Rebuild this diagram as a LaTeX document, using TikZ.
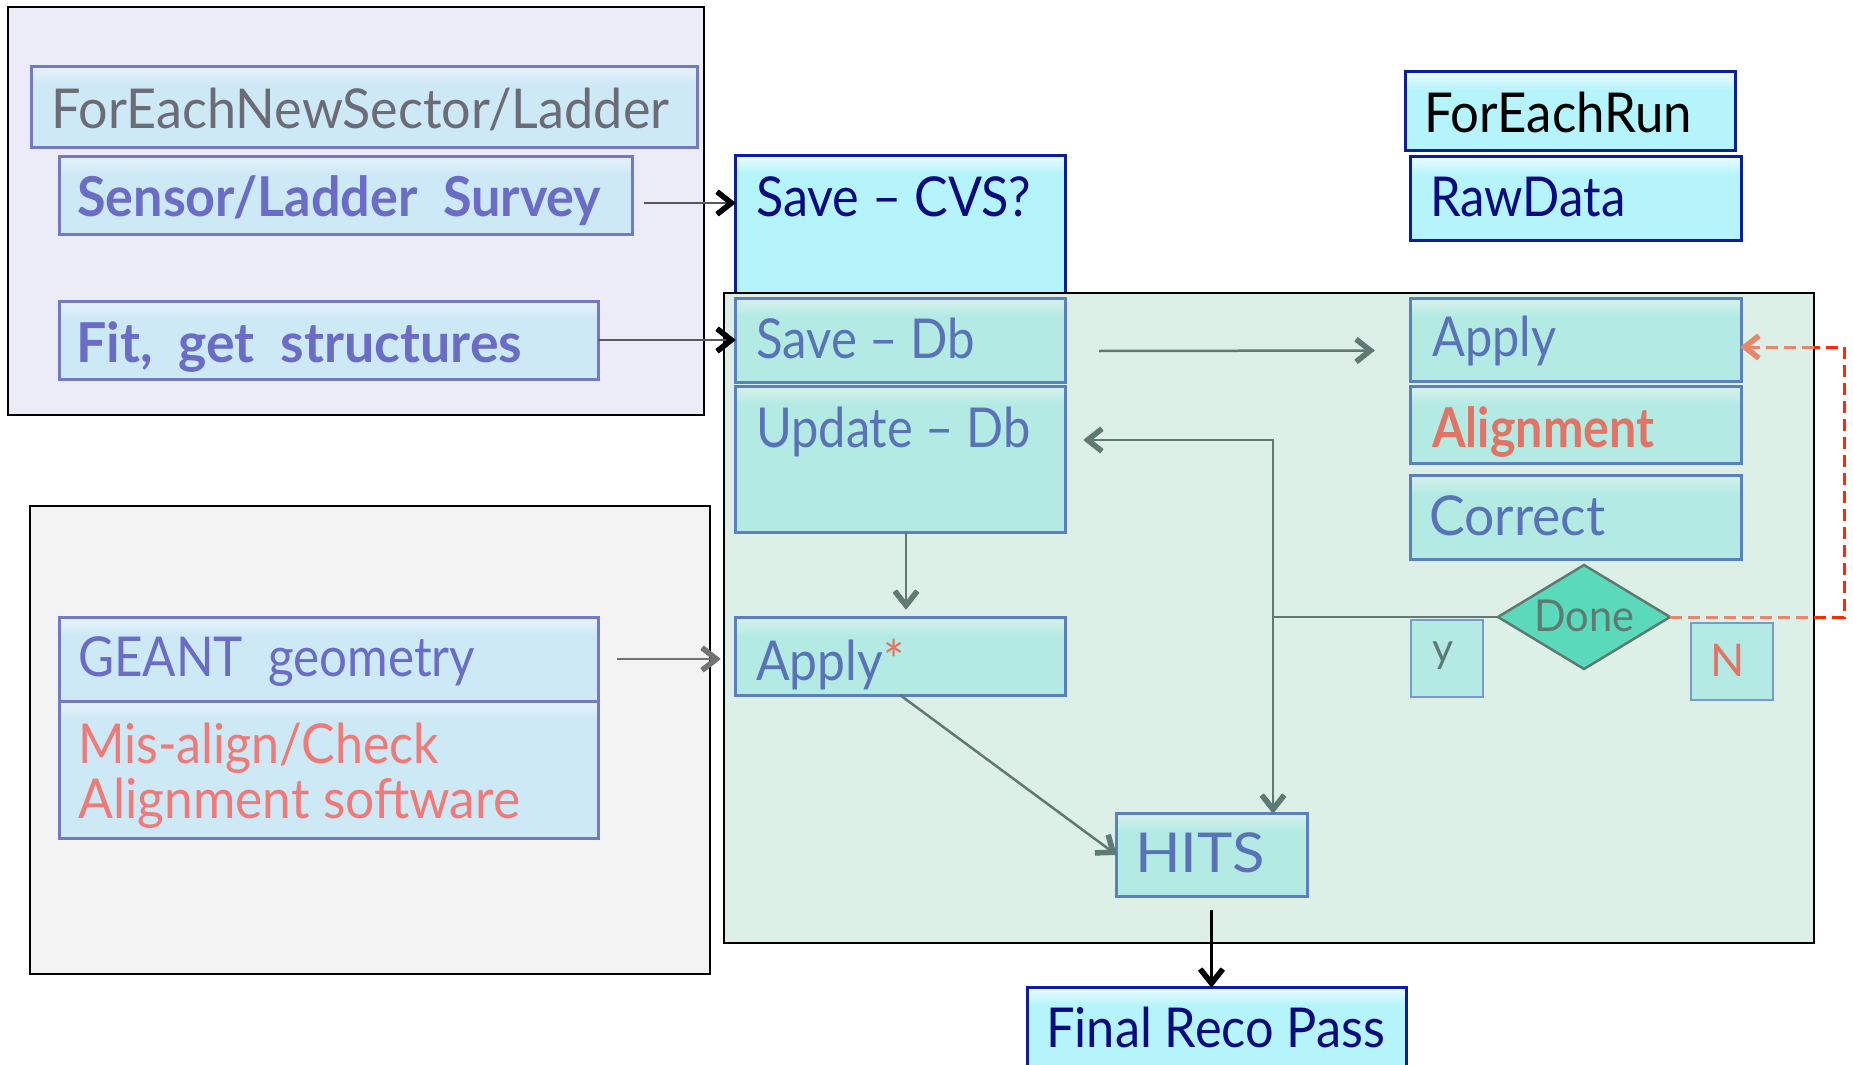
\documentclass[tikz,border=0pt]{standalone}
\usepackage{fontspec}
\setmainfont{Lato}
\usepackage{graphicx}
\usetikzlibrary{shapes.geometric,calc,decorations.markings}

\definecolor{lavbg}{HTML}{ECEBF8}
\definecolor{graybg}{HTML}{F3F3F3}
\definecolor{greenbg}{HTML}{DCF0E8}
\definecolor{lbfill}{HTML}{CDE9F6}
\definecolor{lbtop}{HTML}{E8F2FA}
\definecolor{lbdraw}{HTML}{7479C6}
\definecolor{cyfill}{HTML}{B6F4FC}
\definecolor{cytop}{HTML}{EAFCFF}
\definecolor{cydraw}{HTML}{0A1E9E}
\definecolor{tlfill}{HTML}{B3EBE4}
\definecolor{tltop}{HTML}{D8F0EC}
\definecolor{tldraw}{HTML}{5B80BF}
\definecolor{purptxt}{HTML}{6A6CC6}
\definecolor{graytxt}{HTML}{6C6C78}
\definecolor{navytxt}{HTML}{0B0B80}
\definecolor{slatetxt}{HTML}{5A72B6}
\definecolor{salmon}{HTML}{F07A78}
\definecolor{coral}{HTML}{E27466}
\definecolor{conncol}{HTML}{5E7A72}
\definecolor{dmfill}{HTML}{5BD9BB}
\definecolor{dashsal}{HTML}{E8856A}
\definecolor{dashred}{HTML}{FF2A00}

% stretch a label horizontally to a given width, keeping its height
\newcommand{\fitw}[2]{\resizebox{#1}{\height}{#2}}

\tikzset{
  x=1pt, y=-1pt,
  region/.style={draw=black, line width=2.5pt, anchor=north west, inner sep=0pt, outer sep=0pt},
  % box with a soft lighter band along its top edge (drawn in thin steps)
  gradbox/.style n args={3}{draw=#1, fill=#2, anchor=north west, inner sep=0pt, outer sep=0pt,
    path picture={
      \foreach \k [evaluate=\k as \p using {int(100-\k*100/12)}] in {0,...,11}
        \fill[#3!\p!#2] ([yshift=-\k*1.5pt]path picture bounding box.north west)
          rectangle ([yshift=-\k*1.5pt-1.7pt]path picture bounding box.north east);}},
  lbbox/.style={gradbox={lbdraw}{lbfill}{lbtop}, line width=3pt},
  cybox/.style={gradbox={cydraw}{cyfill}{cytop}, line width=3pt},
  tlbox/.style={gradbox={tldraw}{tlfill}{tltop}, line width=3pt},
  smallbox/.style={draw=tldraw!80, fill=tlfill, line width=1.6pt, anchor=north west, inner sep=0pt, outer sep=0pt},
  lbl/.style={anchor=base west, inner sep=0pt, font=\fontsize{55}{60}\selectfont},
  % thick open chevron (filled outline) at the end of a connector
  vhead/.style={postaction={decorate}, decoration={markings, mark=at position 1 with {
      \filldraw[#1, solid, line width=1pt, line join=round]
        (0pt,0pt) -- (-16.2pt,12.8pt) -- (-19pt,9.2pt) -- (-7.3pt,0pt)
        -- (-19pt,-9.2pt) -- (-16.2pt,-12.8pt) -- cycle;}}},
  conn/.style={draw=conncol, line width=2.5pt, vhead=conncol},
  larr/.style={draw=black!65, line width=2.2pt, vhead=black},
  garr/.style={draw=black!55, line width=2.6pt, vhead=black!55},
  blk/.style={draw=black, line width=2.2pt, vhead=black},
  dsal/.style={draw=dashsal, line width=3pt, dash pattern=on 12pt off 6pt},
  dred/.style={draw=dashred, line width=3pt, dash pattern=on 12pt off 6pt},
}

\begin{document}
\begin{tikzpicture}
\useasboundingbox (0,0) rectangle (1853,1065);

% three grouping regions
\node[region, fill=lavbg, minimum width=696, minimum height=408] (ra) at (8,7) {};
\node[region, fill=graybg, minimum width=680, minimum height=468] (rb) at (30,506) {};

% survey side
\node[lbbox, minimum width=666, minimum height=80] (fens) at (31,67) {};
\node[lbbox, minimum width=573, minimum height=78] (surv) at (59,156) {};
\node[lbbox, minimum width=539, minimum height=78] (fit) at (59,301) {};
\node[lbl, text=graytxt] (tfens) at (51,128) {\fitw{618pt}{ForEachNewSector/Ladder}};
\node[lbl, text=purptxt, font=\fontsize{55}{60}\selectfont\bfseries] (tsurv) at (77,216) {\fitw{524pt}{Sensor/Ladder\ \ Survey}};
\node[lbl, text=purptxt, font=\fontsize{55}{60}\selectfont\bfseries] (tfit) at (76,362) {\fitw{446pt}{Fit,\ \ get\ \ structures}};

% simulation side
\node[lbbox, minimum width=539, minimum height=84] (geant) at (59,617) {};
\node[lbbox, minimum width=539, minimum height=137] (mis) at (59,701) {};
\node[lbl, text=purptxt] (tgeant) at (78,676) {\fitw{397pt}{GEANT\ \ geometry}};
\node[lbl, text=salmon] (tmis) at (78,763) {\fitw{361pt}{Mis-align/Check}};
\node[lbl, text=salmon] (tsw) at (78,818) {\fitw{442pt}{Alignment software}};

% save to CVS, then the run loop region
\node[cybox, minimum width=330, minimum height=138] (cvs) at (735,155) {};
\node[lbl, text=navytxt] (tcvs) at (756,216) {\fitw{275pt}{Save – CVS?}};
\node[region, fill=greenbg, minimum width=1090, minimum height=650] (rc) at (724,293) {};

\node[tlbox, minimum width=330, minimum height=84] (sdb) at (735,298) {};
\node[tlbox, minimum width=330, minimum height=146] (upd) at (735,386) {};
\node[tlbox, minimum width=330, minimum height=78] (aps) at (735,617) {};
\node[tlbox, minimum width=191, minimum height=83] (hits) at (1116,813) {};
\node[lbl, text=slatetxt] (tsdb) at (756,358) {\fitw{219pt}{Save – Db}};
\node[lbl, text=slatetxt] (tupd) at (756,447) {\fitw{274pt}{Update – Db}};
\node[lbl, text=slatetxt] (taps) at (756,680) {\fitw{148pt}{Apply{\color{coral}*}}};
\node[lbl, text=slatetxt] (thits) at (1135,872) {\fitw{130pt}{HITS}};

% per-run inputs
\node[cybox, minimum width=330, minimum height=78] (fer) at (1405,72) {};
\node[cybox, minimum width=331, minimum height=84] (raw) at (1410,156) {};
\node[lbl, text=black] (tfer) at (1424,132) {\fitw{268pt}{ForEachRun}};
\node[lbl, text=navytxt] (traw) at (1430,216) {\fitw{195pt}{RawData}};

% alignment step
\node[tlbox, minimum width=331, minimum height=83] (apr) at (1410,298) {};
\node[tlbox, minimum width=331, minimum height=77] (aln) at (1410,386) {};
\node[tlbox, minimum width=331, minimum height=84] (cor) at (1410,475) {};
\node[lbl, text=slatetxt] (tapr) at (1432,356) {\fitw{124pt}{Apply}};
\node[lbl, text=coral, font=\fontsize{55}{60}\selectfont\bfseries] (taln) at (1432,447) {\fitw{222pt}{Alignment}};
\node[lbl, text=slatetxt] (tcor) at (1429,535) {\fitw{176pt}{Correct}};

% decision
\node[diamond, draw=conncol, fill=dmfill, line width=2.5pt, minimum width=172, minimum height=104, inner sep=0pt, outer sep=0pt] (done) at (1584,617) {};
\node[lbl, text=conncol, font=\fontsize{44}{48}\selectfont] (tdone) at (1534,631) {\fitw{100pt}{Done}};
\node[smallbox, minimum width=72, minimum height=77] (ybox) at (1411,620) {};
\node[smallbox, minimum width=82, minimum height=77] (nbox) at (1691,623) {};
\node[lbl, text=conncol, font=\fontsize{41}{46}\selectfont] (ty) at (1432,662) {y};
\node[lbl, text=coral, font=\fontsize{45}{50}\selectfont] (tn) at (1710,676) {N};

% final pass
\node[cybox, minimum width=379, minimum height=85] (fr) at (1027,987) {};
\node[lbl, text=navytxt] (tfr) at (1046,1047) {\fitw{339pt}{Final Reco Pass}};

% connectors from the left regions
\draw[larr] ($(surv.east)+(12,8)$) -- ($(cvs.west)+(0,-21)$);
\draw[larr] (fit.east) -- (sdb.west);
\draw[garr] ($(geant.east)+(19,0)$) -- ($(geant.east -| aps.west)+(-15,0)$);

% flow inside the run loop
\draw[conn] ($(sdb.east)+(34,11)$) -- ($(apr.west)+(-36,11)$);
\draw[conn] ($(upd.south)+(6,0)$) -- ($(aps.north)+(6,-8)$);
\draw[conn] (aps.south) -- (hits.west);

\coordinate (jn) at (1273,617);
\coordinate (jt) at (1273,440);
\draw[draw=conncol, line width=2.5pt] (done.west) -- (jn);
\draw[conn] (jn) -- (jt) -- ($(upd.east |- jt)+(19,0)$);
\draw[conn] (jn) -- (jn |- hits.north);

\draw[blk] ($(hits.south)+(0,14)$) -- (hits.south |- fr.north);

% "not done" loop back to Apply
\coordinate (g1) at (1814,617);
\coordinate (g2) at (1814,347);
\coordinate (d1) at (1844,617);
\coordinate (d2) at (1844,347);
\draw[dsal] (done.east) -- (g1);
\draw[dred] (g1) -- (d1) -- (d2) -- (g2);
\draw[dsal, vhead=dashsal] (g2) -- ($(apr.east)+(0,7.5)$);
\end{tikzpicture}
\end{document}
